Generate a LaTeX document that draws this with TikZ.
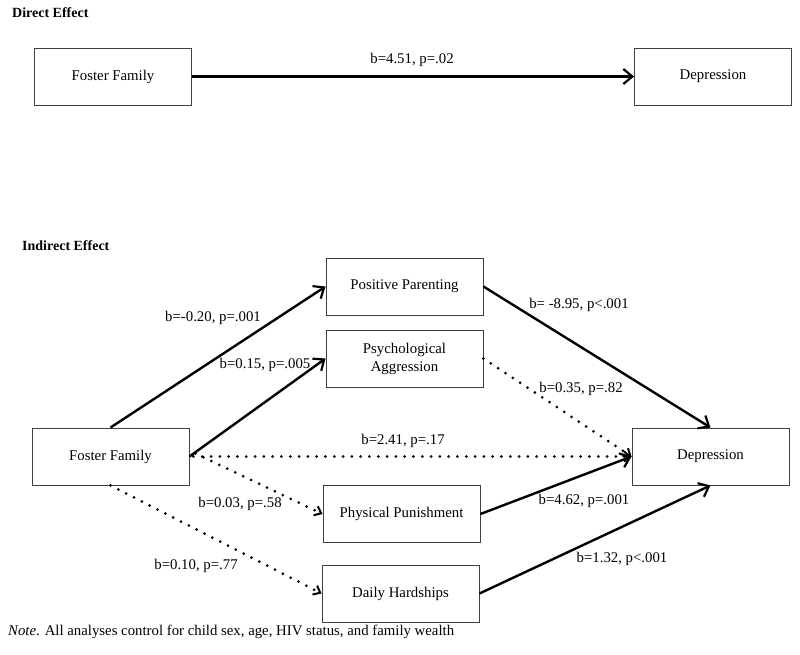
\documentclass[tikz,border=0pt]{standalone}
\usepackage{fontspec}
\setmainfont{Liberation Serif}
\usetikzlibrary{arrows.meta}
\begin{document}
\begin{tikzpicture}[x=1pt,y=-1pt,
  every node/.style={font=\fontsize{14.8}{17}\selectfont},
  box/.style={draw=black!75, line width=0.9pt, minimum width=157pt, minimum height=57pt, inner sep=0pt, align=center},
  lbl/.style={inner sep=0pt, anchor=center, yshift=-1.5pt},
  title/.style={inner sep=0pt, anchor=west, font=\fontsize{14}{17}\selectfont\bfseries},
  solidarr/.style={line width=2.4pt, -{Straight Barb[length=9pt,width=15pt,line width=2.2pt]}},
  dotarr/.style={line width=3pt, line cap=round, dash pattern=on 0pt off 8.8pt, -{Straight Barb[length=6pt,width=10pt,line width=2pt]}}
]
\useasboundingbox (0,0) rectangle (800,655);

% Direct effect
\node[title] (t1) at (12,13) {Direct Effect};
\node[box] (ffd) at (113,76.5) {Foster Family};
\node[box] (depd) at (713,76.5) {Depression};
\draw[solidarr] (ffd.east) -- (depd.west);
\node[lbl] (l0) at (412,58) {b=4.51, p=.02};

% Indirect effect
\node[title] (t2) at (22,246) {Indirect Effect};
\node[box] (ffi) at (110.5,456.5) {Foster Family};
\node[box] (depi) at (710.5,456.5) {Depression};
\node[box] (pp) at (404.5,286.5) {Positive Parenting};
\node[box] (pa) at (404.5,358.5) {Psychological\\[1pt]Aggression};
\node[box] (phys) at (401.5,514) {Physical Punishment};
\node[box] (daily) at (400.5,593.5) {Daily Hardships};

\draw[solidarr] (ffi.north) -- (pp.west);
\draw[solidarr] (ffi.east) -- (pa.west);
\draw[dotarr] ([xshift=4pt]ffi.east) -- (depi.west);
\draw[dotarr] ([xshift=6pt,yshift=3pt]ffi.east) -- (phys.west);
\draw[dotarr] (ffi.south) -- (daily.west);
\draw[solidarr] (pp.east) -- (depi.north);
\draw[dotarr] (pa.east) -- (depi.west);
\draw[solidarr] (phys.east) -- (depi.west);
\draw[solidarr] (daily.east) -- (depi.south);

\node[lbl] (l1) at (213,316) {b=-0.20, p=.001};
\node[lbl] (l2) at (265,363) {b=0.15, p=.005};
\node[lbl] (l3) at (579,303) {b= -8.95, p<.001};
\node[lbl] (l4) at (581,387) {b=0.35, p=.82};
\node[lbl] (l5) at (403,439) {b=2.41, p=.17};
\node[lbl] (l6) at (240,502) {b=0.03, p=.58};
\node[lbl] (l7) at (196,564) {b=0.10, p=.77};
\node[lbl] (l8) at (584,499) {b=4.62, p=.001};
\node[lbl] (l9) at (622,557) {b=1.32, p<.001};

\node[inner sep=0pt, anchor=west] (note) at (8,632) {\textit{Note}. All analyses control for child sex, age, HIV status, and family wealth};
\end{tikzpicture}
\end{document}
